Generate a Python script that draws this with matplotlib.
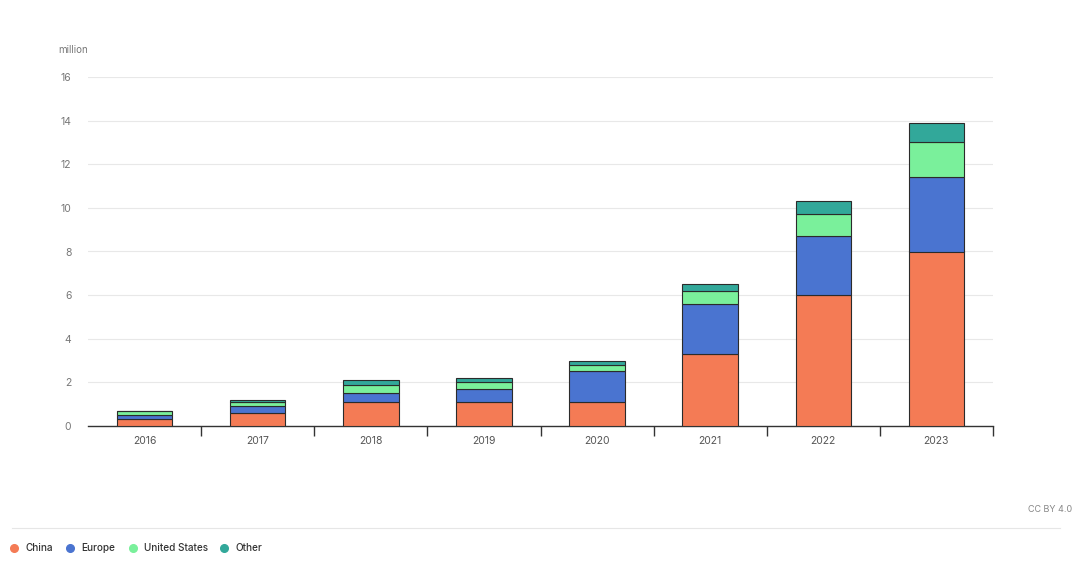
import matplotlib
matplotlib.use("Agg")
import matplotlib.pyplot as plt
from matplotlib.lines import Line2D
import numpy as np

plt.rcParams['font.family'] = ['Inter', 'DejaVu Sans']

years = ["2016", "2017", "2018", "2019", "2020", "2021", "2022", "2023"]
china = [0.30, 0.58, 1.09, 1.09, 1.10, 3.30, 6.00, 8.00]
europe = [0.20, 0.34, 0.41, 0.61, 1.42, 2.30, 2.70, 3.40]
united_states = [0.17, 0.19, 0.38, 0.30, 0.28, 0.60, 1.00, 1.60]
other = [0.04, 0.10, 0.22, 0.20, 0.18, 0.30, 0.60, 0.90]
series_names = ["China", "Europe", "United States", "Other"]
series_colors = ["#f47b55", "#4a74d0", "#7af09b", "#32a89a"]
yticks = [0, 2, 4, 6, 8, 10, 12, 14, 16]

fig = plt.figure(figsize=(10.8, 5.62), dpi=100)
ax = fig.add_axes([88/1080, 1-426/562, (993-88)/1080, (426-77)/562])

x = np.arange(len(years))
bottom = np.zeros(len(years))
for vals, col in zip([china, europe, united_states, other], series_colors):
    ax.bar(x, vals, width=0.49, bottom=bottom, color=col, edgecolor="#2b2b2b",
           linewidth=0.8, zorder=3)
    bottom += np.array(vals)

ax.set_xlim(-0.5, len(years) - 0.5)
ax.set_ylim(0, 16)
ax.set_yticks(yticks)
ax.set_yticklabels([str(t) for t in yticks])
ax.grid(axis="y", color="#e8e8e8", linewidth=0.8, zorder=0)
for s in ["top", "right", "left"]:
    ax.spines[s].set_visible(False)
ax.spines["bottom"].set_color("#333333")
ax.spines["bottom"].set_linewidth(1.0)
ax.tick_params(axis="y", length=0, labelsize=7.5, labelcolor="#777777", pad=12)
ax.set_xticks(x)
ax.set_xticklabels(years)
ax.tick_params(axis="x", which="major", length=0, labelsize=7.5, labelcolor="#555555", pad=7)
ax.set_xticks(np.arange(1, len(years) + 1) - 0.5, minor=True)
ax.tick_params(axis="x", which="minor", length=7, width=1.0, color="#333333", direction="out")

fig.text(58/1080, 1-50/562, "million", fontsize=7, color="#777777", va="center", ha="left")

# bottom separator line
fig.add_artist(Line2D([12/1080, 1060/1080], [1-528/562, 1-528/562], color="#e6e6e6", linewidth=0.8))

# legend
lx = [14, 70, 133, 224]
for px, name, col in zip(lx, series_names, series_colors):
    fig.add_artist(Line2D([px/1080], [1-548/562], marker="o", markersize=5.5,
                          color=col, linestyle="none"))
    fig.text((px + 11)/1080, 1-548/562, name, fontsize=7.2, color="#333333",
             va="center", ha="left", fontweight="medium")

fig.text(1072/1080, 1-510/562, "CC BY 4.0", fontsize=6.5, color="#888888",
         va="center", ha="right")

fig.savefig("out.png", dpi=100)
